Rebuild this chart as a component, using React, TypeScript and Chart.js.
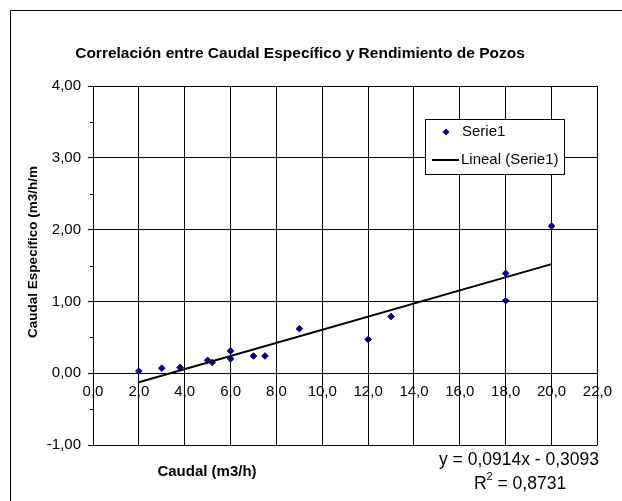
import React, { useEffect, useRef } from 'react';
import { Chart, registerables } from 'chart.js';

Chart.register(...registerables);

// ---- data ----
const caudal = [2.0, 3.0, 3.8, 5.0, 5.2, 6.0, 6.0, 7.0, 7.5, 9.0, 12.0, 13.0, 18.0, 18.0, 20.0];
const caudalEspecifico = [0.03, 0.07, 0.08, 0.18, 0.15, 0.31, 0.2, 0.24, 0.24, 0.62, 0.47, 0.79, 1.39, 1.01, 2.05];
const trendSlope = 0.0914;
const trendIntercept = -0.3093;
const rSquared = 0.8731;

const chartTitle = 'Correlación entre Caudal Específico y Rendimiento de Pozos';
const xAxisTitle = 'Caudal (m3/h)';
const yAxisTitle = 'Caudal Específico (m3/h/m';
const seriesLabel = 'Serie1';
const trendLabel = 'Lineal (Serie1)';

const xMin = 0;
const xMax = 22;
const xStep = 2;
const yMin = -1;
const yMax = 4;
const yStep = 1;
const yMinorStep = 0.5;

const FONT = '"Liberation Sans", Arial, sans-serif';
const NAVY = '#000080';

const comma = (v: number, d: number) => v.toFixed(d).replace('.', ',');

const decorPlugin = {
  id: 'decor',
  afterDraw(chart: any) {
    const ctx = chart.ctx as CanvasRenderingContext2D;
    const ys = chart.scales.y;
    const area = chart.chartArea;
    ctx.save();

    // outer frame
    ctx.strokeStyle = '#000';
    ctx.lineWidth = 1;
    ctx.beginPath();
    ctx.moveTo(10.5, 540);
    ctx.lineTo(10.5, 10.5);
    ctx.lineTo(660, 10.5);
    ctx.stroke();

    // minor ticks on y axis
    ctx.beginPath();
    for (let v = yMin + yMinorStep; v < yMax; v += yStep) {
      const py = Math.round(ys.getPixelForValue(v)) + 0.5;
      ctx.moveTo(area.left - 3, py);
      ctx.lineTo(area.left, py);
    }
    ctx.stroke();

    // y axis title
    ctx.fillStyle = '#000';
    ctx.font = `bold 13.5px ${FONT}`;
    ctx.textAlign = 'center';
    ctx.textBaseline = 'middle';
    ctx.save();
    ctx.translate(33, 252);
    ctx.rotate(-Math.PI / 2);
    ctx.fillText(yAxisTitle, 0, 0);
    ctx.restore();

    // x axis title
    ctx.font = `bold 15px ${FONT}`;
    ctx.fillText(xAxisTitle, 207, 472);

    // trendline equation
    ctx.font = `17.5px ${FONT}`;
    const eq = `y = ${comma(trendSlope, 4)}x - ${comma(-trendIntercept, 4)}`;
    ctx.fillText(eq, 519, 460);
    const rest = ` = ${comma(rSquared, 4)}`;
    const wR = ctx.measureText('R').width;
    const wRest = ctx.measureText(rest).width;
    ctx.font = `11px ${FONT}`;
    const w2 = ctx.measureText('2').width;
    const total = wR + w2 + wRest;
    let sx = 520 - total / 2;
    ctx.textAlign = 'left';
    ctx.font = `17.5px ${FONT}`;
    ctx.fillText('R', sx, 484);
    sx += wR;
    ctx.font = `11px ${FONT}`;
    ctx.fillText('2', sx, 477);
    sx += w2;
    ctx.font = `17.5px ${FONT}`;
    ctx.fillText(rest, sx, 484);

    // legend
    const lx = 425.5, ly = 119.5, lw = 139, lh = 55;
    ctx.fillStyle = '#fff';
    ctx.fillRect(lx, ly, lw, lh);
    ctx.strokeStyle = '#000';
    ctx.lineWidth = 1;
    ctx.strokeRect(lx, ly, lw, lh);
    // marker
    ctx.fillStyle = NAVY;
    ctx.beginPath();
    const mx = 446, my = 132, mr = 3.5;
    ctx.moveTo(mx - mr, my);
    ctx.lineTo(mx, my - mr);
    ctx.lineTo(mx + mr, my);
    ctx.lineTo(mx, my + mr);
    ctx.closePath();
    ctx.fill();
    // line
    ctx.strokeStyle = '#000';
    ctx.lineWidth = 2;
    ctx.beginPath();
    ctx.moveTo(432, 160);
    ctx.lineTo(459, 160);
    ctx.stroke();
    ctx.fillStyle = '#000';
    ctx.font = `15px ${FONT}`;
    ctx.textAlign = 'left';
    ctx.textBaseline = 'middle';
    ctx.fillText(seriesLabel, 462, 132);
    ctx.fillText(trendLabel, 461, 160);

    ctx.restore();
  },
};

export default function App() {
  const ref = useRef<HTMLCanvasElement>(null);

  useEffect(() => {
    if (!ref.current) return;
    const points = caudal.map((x, i) => ({ x, y: caudalEspecifico[i] }));
    const tx0 = Math.min(...caudal);
    const tx1 = Math.max(...caudal);
    const trend = [
      { x: tx0, y: trendSlope * tx0 + trendIntercept },
      { x: tx1, y: trendSlope * tx1 + trendIntercept },
    ];

    const chart = new Chart(ref.current, {
      type: 'scatter',
      data: {
        datasets: [
          {
            label: seriesLabel,
            data: points,
            pointStyle: 'rectRot',
            pointRadius: 3.3,
            backgroundColor: NAVY,
            borderColor: NAVY,
            borderWidth: 1,
            order: 1,
          },
          {
            label: trendLabel,
            type: 'line',
            data: trend,
            borderColor: '#000',
            borderWidth: 2,
            pointRadius: 0,
            fill: false,
            order: 0,
          } as any,
        ],
      },
      options: {
        responsive: false,
        animation: false,
        layout: { padding: { left: 0, right: 22, top: 0, bottom: 56 } },
        plugins: {
          legend: { display: false },
          tooltip: { enabled: false },
          title: {
            display: true,
            text: chartTitle,
            color: '#000',
            font: { family: FONT, size: 15.5, weight: 'bold' },
            padding: { top: 44, bottom: 23.4 },
          },
        },
        scales: {
          x: {
            type: 'linear',
            position: { y: 0 } as any,
            min: xMin,
            max: xMax,
            afterFit: (s: any) => {
              s.height = 0;
            },
            ticks: {
              stepSize: xStep,
              autoSkip: false,
              maxRotation: 0,
              padding: 10,
              color: '#000',
              font: { family: FONT, size: 15 },
              callback: (v: any) => comma(Number(v), 1),
            },
            grid: { color: '#000', lineWidth: 1, drawTicks: false },
            border: { color: '#000', width: 1 },
          },
          y: {
            type: 'linear',
            min: yMin,
            max: yMax,
            afterFit: (s: any) => {
              s.width = 93;
            },
            ticks: {
              stepSize: yStep,
              autoSkip: false,
              padding: 7,
              color: '#000',
              font: { family: FONT, size: 15 },
              callback: (v: any) => comma(Number(v), 2),
            },
            grid: { color: '#000', lineWidth: 1, tickLength: 5, tickColor: '#000' },
            border: { color: '#000', width: 1 },
          },
        },
      },
      plugins: [decorPlugin],
    });
    return () => chart.destroy();
  }, []);

  return (
    <div style={{ position: 'fixed', left: 0, top: 0, width: 622, height: 501, background: '#fff' }}>
      <canvas ref={ref} width={622} height={501} style={{ width: 622, height: 501, display: 'block' }} />
    </div>
  );
}
